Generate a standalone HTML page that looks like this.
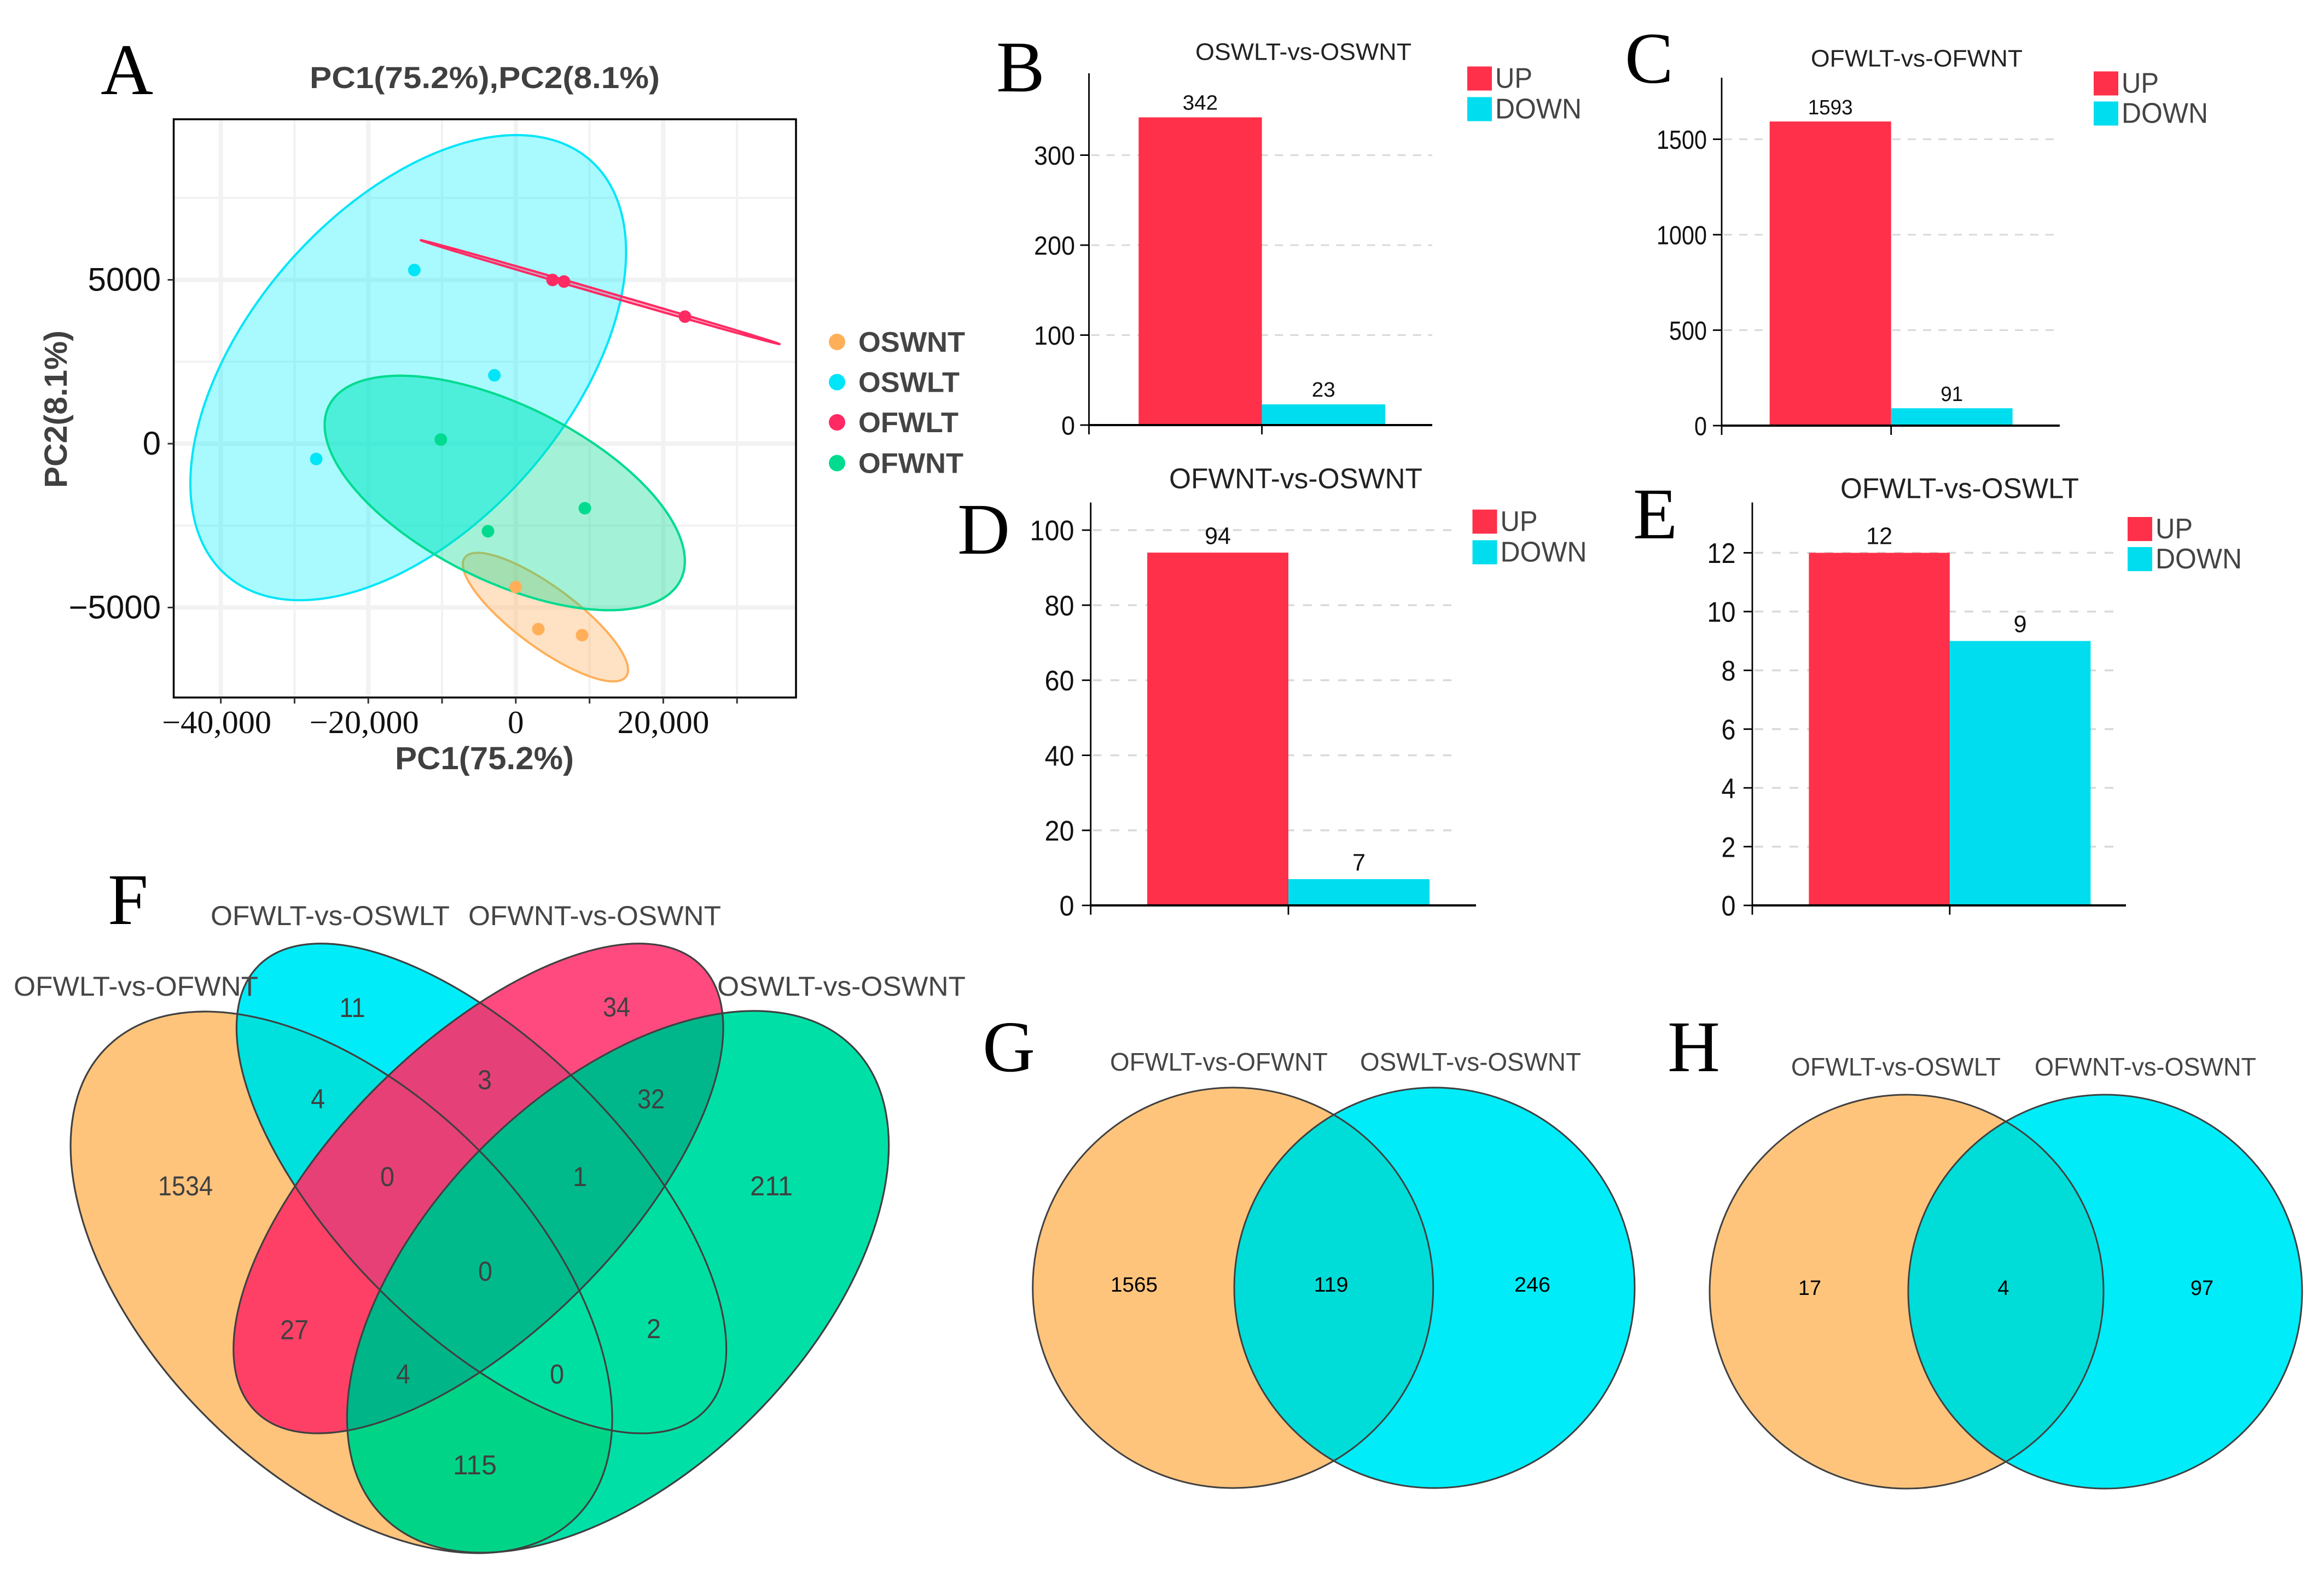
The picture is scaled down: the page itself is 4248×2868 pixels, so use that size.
<!DOCTYPE html>
<html lang="en">
<head>
<meta charset="utf-8">
<title>PCA, differential expression bars and Venn diagrams</title>
<style>
html,body{margin:0;padding:0;background:#fff;}
svg{display:block;}
text{font-family:"Liberation Sans",Arial,sans-serif;}
.letter{font-family:"Liberation Serif","Times New Roman",serif;font-size:133px;fill:#000;}
.setlabel{fill:#454545;font-size:50px;}
.count{fill:#404040;font-size:50px;text-anchor:middle;}
.setlabel2{fill:#454545;font-size:46px;}
.count2{fill:#000;font-size:38px;text-anchor:middle;}
</style>
</head>
<body>
<svg xmlns="http://www.w3.org/2000/svg" width="4248" height="2868" viewBox="0 0 4248 2868">
<rect width="4248" height="2868" fill="#fff"/>

<text class="letter" x="184" y="172">A</text>
<text class="letter" x="1821" y="167">B</text>
<text class="letter" x="2970" y="151">C</text>
<text class="letter" x="1750" y="1012">D</text>
<text class="letter" x="2985" y="984">E</text>
<text class="letter" x="197" y="1689">F</text>
<text class="letter" x="1796" y="1958">G</text>
<text class="letter" x="3048" y="1958">H</text>

<g id="pca-panel"></g>
<g id="bar-b"></g>
<g id="bar-c"></g>
<g id="bar-d"></g>
<g id="bar-e"></g>

<defs>
<path id="e-o" d="M194.8 1914.8A606.9 348.45 45 1 1 1053.2 2773.2A606.9 348.45 45 1 1 194.8 1914.8Z"/>
<path id="e-g" d="M700.3 2772.2A606.9 348.45 -45 1 1 1558.7 1913.8A606.9 348.45 -45 1 1 700.3 2772.2Z"/>
<path id="e-c" d="M472.7 1765.1A575.9 262.45 45 1 1 1287.3 2579.7A575.9 262.45 45 1 1 472.7 1765.1Z"/>
<path id="e-p" d="M467.1 2579.7A575.9 262.45 -45 1 1 1281.7 1765.1A575.9 262.45 -45 1 1 467.1 2579.7Z"/>
<clipPath id="c-o"><use href="#e-o"/></clipPath>
<clipPath id="c-g"><use href="#e-g"/></clipPath>
<clipPath id="c-c"><use href="#e-c"/></clipPath>
<clipPath id="c-p"><use href="#e-p"/></clipPath>
<clipPath id="c-g1"><circle cx="2253.7" cy="2354" r="366"/></clipPath>
<clipPath id="c-h1"><circle cx="3485" cy="2361" r="360"/></clipPath>
</defs>

<g>
  <use href="#e-o" fill="#FEC47C"/>
  <use href="#e-g" fill="#00E0A6"/>
  <use href="#e-c" fill="#00ECF8"/>
  <use href="#e-p" fill="#FF4A80"/>
  <g clip-path="url(#c-o)"><use href="#e-c" fill="#00E0DC"/></g>
  <g clip-path="url(#c-o)"><use href="#e-p" fill="#FF4066"/></g>
  <g clip-path="url(#c-o)"><use href="#e-g" fill="#00D587"/></g>
  <g clip-path="url(#c-c)"><use href="#e-p" fill="#E64078"/></g>
  <g clip-path="url(#c-c)"><use href="#e-g" fill="#00DFA2"/></g>
  <g clip-path="url(#c-p)"><use href="#e-g" fill="#00B78B"/></g>
  <g clip-path="url(#c-o)"><g clip-path="url(#c-c)"><use href="#e-p" fill="#E64076"/></g></g>
  <g clip-path="url(#c-o)"><g clip-path="url(#c-c)"><use href="#e-g" fill="#00DFA2"/></g></g>
  <g clip-path="url(#c-o)"><g clip-path="url(#c-p)"><use href="#e-g" fill="#00B588"/></g></g>
  <g clip-path="url(#c-c)"><g clip-path="url(#c-p)"><use href="#e-g" fill="#00BA8C"/></g></g>
  <g clip-path="url(#c-o)"><g clip-path="url(#c-c)"><g clip-path="url(#c-p)"><use href="#e-g" fill="#00BA8C"/></g></g></g>
  <g fill="none" stroke="#404040" stroke-width="3.2">
    <use href="#e-o"/>
    <use href="#e-c"/>
    <use href="#e-p"/>
    <use href="#e-g"/>
  </g>
  <text class="setlabel" x="385" y="1691" textLength="437" lengthAdjust="spacingAndGlyphs">OFWLT-vs-OSWLT</text>
  <text class="setlabel" x="856" y="1691" textLength="462" lengthAdjust="spacingAndGlyphs">OFWNT-vs-OSWNT</text>
  <text class="setlabel" x="25" y="1820" textLength="447" lengthAdjust="spacingAndGlyphs">OFWLT-vs-OFWNT</text>
  <text class="setlabel" x="1311" y="1820" textLength="454" lengthAdjust="spacingAndGlyphs">OSWLT-vs-OSWNT</text>
  <text class="count" x="644" y="1859" textLength="47" lengthAdjust="spacingAndGlyphs">11</text>
  <text class="count" x="1127" y="1858" textLength="50" lengthAdjust="spacingAndGlyphs">34</text>
  <text class="count" x="581" y="2026" textLength="26" lengthAdjust="spacingAndGlyphs">4</text>
  <text class="count" x="886" y="1991" textLength="26" lengthAdjust="spacingAndGlyphs">3</text>
  <text class="count" x="1190" y="2026" textLength="50" lengthAdjust="spacingAndGlyphs">32</text>
  <text class="count" x="339" y="2185" textLength="100" lengthAdjust="spacingAndGlyphs">1534</text>
  <text class="count" x="708" y="2168" textLength="26" lengthAdjust="spacingAndGlyphs">0</text>
  <text class="count" x="1060" y="2168" textLength="26" lengthAdjust="spacingAndGlyphs">1</text>
  <text class="count" x="1410" y="2185" textLength="78" lengthAdjust="spacingAndGlyphs">211</text>
  <text class="count" x="887" y="2341" textLength="26" lengthAdjust="spacingAndGlyphs">0</text>
  <text class="count" x="538" y="2448" textLength="52" lengthAdjust="spacingAndGlyphs">27</text>
  <text class="count" x="1195" y="2446" textLength="26" lengthAdjust="spacingAndGlyphs">2</text>
  <text class="count" x="737" y="2529" textLength="26" lengthAdjust="spacingAndGlyphs">4</text>
  <text class="count" x="1018" y="2529" textLength="26" lengthAdjust="spacingAndGlyphs">0</text>
  <text class="count" x="868" y="2695" textLength="80" lengthAdjust="spacingAndGlyphs">115</text>
</g>

<g>
  <circle cx="2253.7" cy="2354" r="366" fill="#FEC47C"/>
  <circle cx="2622" cy="2354" r="366" fill="#00ECF8"/>
  <g clip-path="url(#c-g1)"><circle cx="2622" cy="2354" r="366" fill="#00DDD8"/></g>
  <circle cx="2253.7" cy="2354" r="366" fill="none" stroke="#404040" stroke-width="3"/>
  <circle cx="2622" cy="2354" r="366" fill="none" stroke="#404040" stroke-width="3"/>
  <text class="setlabel2" x="2029" y="1957" textLength="398" lengthAdjust="spacingAndGlyphs">OFWLT-vs-OFWNT</text>
  <text class="setlabel2" x="2486" y="1957" textLength="404" lengthAdjust="spacingAndGlyphs">OSWLT-vs-OSWNT</text>
  <text class="count2" x="2073" y="2361" textLength="86" lengthAdjust="spacingAndGlyphs">1565</text>
  <text class="count2" x="2433" y="2361" textLength="63" lengthAdjust="spacingAndGlyphs">119</text>
  <text class="count2" x="2801" y="2361" textLength="66" lengthAdjust="spacingAndGlyphs">246</text>
</g>

<g>
  <circle cx="3485" cy="2361" r="360" fill="#FEC47C"/>
  <circle cx="3848" cy="2361" r="360" fill="#00ECF8"/>
  <g clip-path="url(#c-h1)"><circle cx="3848" cy="2361" r="360" fill="#00DDD8"/></g>
  <circle cx="3485" cy="2361" r="360" fill="none" stroke="#404040" stroke-width="3"/>
  <circle cx="3848" cy="2361" r="360" fill="none" stroke="#404040" stroke-width="3"/>
  <text class="setlabel2" x="3274" y="1966" textLength="383" lengthAdjust="spacingAndGlyphs">OFWLT-vs-OSWLT</text>
  <text class="setlabel2" x="3719" y="1966" textLength="405" lengthAdjust="spacingAndGlyphs">OFWNT-vs-OSWNT</text>
  <text class="count2" x="3308" y="2367">17</text>
  <text class="count2" x="3662" y="2367">4</text>
  <text class="count2" x="4025" y="2367">97</text>
</g>
</svg>

<script>
/* ---------- PCA data ---------- */
const groupNames = ['OSWNT', 'OSWLT', 'OFWLT', 'OFWNT'];
const oswntPc1 = [0, 3056, 8991];
const oswntPc2 = [-4374, -5659, -5843];
const oswltPc1 = [-13754, -2900, -27062];
const oswltPc2 = [5299, 2087, -467];
const ofwltPc1 = [4985, 6543, 22938];
const ofwltPc2 = [4995, 4948, 3878];
const ofwntPc1 = [-10163, -3769, 9362];
const ofwntPc2 = [125, -2671, -1970];
/* confidence ellipses: centre and half extents in data units, correlation */
const ellipseCentreX = [4020, -14585, 11439, -1499];
const ellipseCentreY = [-5292, 2320, 4624, -1504];
const ellipseHalfX = [11200, 29540, 24332, 24421];
const ellipseHalfY = [1962, 7097, 1586, 3578];
const ellipseRho = [-0.82, 0.497, -0.9993, -0.58];
const pcaXMajorTicks = [-40000, -20000, 0, 20000];
const pcaXMinorTicks = [-30000, -10000, 10000, 30000];
const pcaYMajorTicks = [-5000, 0, 5000];
const pcaYMinorTicks = [-2500, 2500, 7500];

/* ---------- Bar chart data ---------- */
const barCategories = ['UP', 'DOWN'];
const bValues = [342, 23];
const bTicks = [0, 100, 200, 300];
const cValues = [1593, 91];
const cTicks = [0, 500, 1000, 1500];
const dValues = [94, 7];
const dTicks = [0, 20, 40, 60, 80, 100];
const eValues = [12, 9];
const eTicks = [0, 2, 4, 6, 8, 10, 12];

const SVGNS = 'http://www.w3.org/2000/svg';
const groupColors = ['#FFAF5A', '#00E5F7', '#FF2A63', '#00DB8F'];
const ellipseFills = ['#FFAF5A', '#00F0FF', '#FF2A63', '#00DB8F'];
const barColors = ['#FF3049', '#00DDEE'];

function mk(parent, tag, attrs) {
  const el = document.createElementNS(SVGNS, tag);
  for (const k in attrs) el.setAttribute(k, attrs[k]);
  parent.appendChild(el);
  return el;
}
function mkText(parent, str, attrs, length) {
  const el = mk(parent, 'text', attrs);
  el.textContent = str;
  if (length) {
    el.setAttribute('textLength', length);
    el.setAttribute('lengthAdjust', 'spacingAndGlyphs');
  }
  return el;
}

/* ---------- Panel A ---------- */
(function () {
  const root = document.getElementById('pca-panel');
  const px = v => 942.8 + v * 0.01348;
  const py = v => 811 - v * 0.0599;
  const L = 317.5, R = 1455, T = 218, B = 1275;

  const clip = mk(root, 'clipPath', { id: 'pca-clip' });
  mk(clip, 'rect', { x: L, y: T, width: R - L, height: B - T });
  const gridG = mk(root, 'g', { 'clip-path': 'url(#pca-clip)' });
  
  

  pcaXMinorTicks.forEach(v => {
    const l = mk(gridG, 'line', { x1: px(v), x2: px(v), y1: T, y2: B, stroke: '#f2f2f2', 'stroke-width': 4 });
    
    
  });
  pcaYMinorTicks.forEach(v => {
    const l = mk(gridG, 'line', { x1: L, x2: R, y1: py(v), y2: py(v), stroke: '#f2f2f2', 'stroke-width': 4 });
    
    
  });
  pcaXMajorTicks.forEach(v => {
    const l = mk(gridG, 'line', { x1: px(v), x2: px(v), y1: T, y2: B, stroke: '#f2f2f2', 'stroke-width': 8 });
    
    
  });
  pcaYMajorTicks.forEach(v => {
    const l = mk(gridG, 'line', { x1: L, x2: R, y1: py(v), y2: py(v), stroke: '#f2f2f2', 'stroke-width': 8 });
    
    
  });

  const ellipsePaths = [];
  groupNames.forEach((name, i) => {
    const s = Math.sqrt(1 - ellipseRho[i] * ellipseRho[i]);
    let d = '';
    for (let k = 0; k < 240; k++) {
      const t = k / 240 * Math.PI * 2;
      const vx = ellipseCentreX[i] + ellipseHalfX[i] * Math.cos(t);
      const vy = ellipseCentreY[i] + ellipseHalfY[i] * (ellipseRho[i] * Math.cos(t) + s * Math.sin(t));
      d += (k ? 'L' : 'M') + px(vx).toFixed(1) + ' ' + py(vy).toFixed(1);
    }
    d += 'Z';
    ellipsePaths.push(d);
    const e = mk(root, 'path', { d: d, fill: ellipseFills[i], 'fill-opacity': i === 1 ? 0.34 : 0.36, stroke: groupColors[i], 'stroke-width': 4, 'stroke-linejoin': 'round' });
    
    
  });

  /* the reference overlap of the OSWLT and OFWNT ellipses is a brighter turquoise */
  const overlapClip = mk(root, 'clipPath', { id: 'pca-cyan-clip' });
  mk(overlapClip, 'path', { d: ellipsePaths[1] });
  const overlap = mk(root, 'path', { d: ellipsePaths[3], fill: '#00F0E6', 'fill-opacity': 0.28, 'clip-path': 'url(#pca-cyan-clip)' });
  
  
  const overlapEdge = mk(root, 'path', { d: ellipsePaths[3], fill: 'none', stroke: groupColors[3], 'stroke-width': 4 });
  
  

  const xs = [oswntPc1, oswltPc1, ofwltPc1, ofwntPc1];
  const ys = [oswntPc2, oswltPc2, ofwltPc2, ofwntPc2];
  groupNames.forEach((name, i) => {
    xs[i].forEach((v, j) => {
      const c = mk(root, 'circle', { cx: px(v), cy: py(ys[i][j]), r: 11.5, fill: groupColors[i] });
      
      
    });
  });

  const frame = mk(root, 'rect', { x: L, y: T, width: R - L, height: B - T, fill: 'none', stroke: '#000', 'stroke-width': 3.5 });
  
  

  pcaXMajorTicks.concat(pcaXMinorTicks).forEach(v => {
    const l = mk(root, 'line', { x1: px(v), x2: px(v), y1: B, y2: B + 11, stroke: '#333', 'stroke-width': 3 });
    
    
  });
  pcaYMajorTicks.forEach(v => {
    const l = mk(root, 'line', { x1: L - 11, x2: L, y1: py(v), y2: py(v), stroke: '#333', 'stroke-width': 3 });
    
    
  });
  const fmtX = v => (v < 0 ? '\u2212' : '') + Math.abs(v).toLocaleString('en-US');
  const fmtY = v => (v < 0 ? '\u2212' : '') + Math.abs(v);
  pcaXMajorTicks.forEach(v => {
    const t = mkText(root, fmtX(v), { x: px(v) - (v < 0 ? 7.5 : 0), y: 1340, 'text-anchor': 'middle', 'font-size': 59, fill: '#111', style: 'font-family:"Liberation Serif",serif' }, v < 0 ? 200 : (v > 0 ? 168 : 0));
    
    
  });
  pcaYMajorTicks.forEach(v => {
    const t = mkText(root, fmtY(v), { x: 294, y: py(v) + 20, 'text-anchor': 'end', 'font-size': 60, fill: '#111' });
    
    
  });

  const title = mkText(root, 'PC1(75.2%),PC2(8.1%)', { x: 566, y: 161, 'font-size': 56, 'font-weight': 'bold', fill: '#404040' }, 640);
  
  
  const xt = mkText(root, 'PC1(75.2%)', { x: 722, y: 1406, 'font-size': 58, 'font-weight': 'bold', fill: '#404040' }, 327);
  
  
  const yt = mkText(root, 'PC2(8.1%)', { x: 0, y: 0, 'font-size': 58, 'font-weight': 'bold', fill: '#404040', transform: 'translate(122 892) rotate(-90)' }, 288);
  
  

  const legendY = [625, 698.5, 772, 846.5];
  const legendLen = [195, 185, 183, 192];
  groupNames.forEach((name, i) => {
    const d = mk(root, 'circle', { cx: 1530, cy: legendY[i], r: 15, fill: groupColors[i] });
    
    
    const t = mkText(root, name, { x: 1569, y: legendY[i] + 18, 'font-size': 52, 'font-weight': 'bold', fill: '#444' }, legendLen[i]);
    
    
  });
})();

/* ---------- Panels B-E ---------- */
function drawBars(id, values, ticks, lay) {
  const root = document.getElementById(id);
  const maxTick = ticks[ticks.length - 1];
  const y = v => lay.base + (lay.topTickY - lay.base) * v / maxTick;
  const bandX = i => lay.band0 + i * lay.bandW;

  ticks.forEach(v => {
    if (v !== 0) {
      const g = mk(root, 'line', { x1: lay.axisX + 4, x2: lay.gridEnd, y1: y(v), y2: y(v), stroke: '#d9d9d9', 'stroke-width': lay.dashWidth, 'stroke-dasharray': lay.dash });
      
      
    }
  });
  values.forEach((v, i) => {
    const r = mk(root, 'rect', { x: bandX(i), y: y(v), width: lay.bandW, height: lay.base - y(v), fill: barColors[i] });
    
    
    const t = mkText(root, String(v), { x: bandX(i) + lay.bandW / 2, y: y(v) - lay.valueGap, 'text-anchor': 'middle', 'font-size': lay.valueSize, fill: '#111' }, String(v).length * lay.valueCharW);
    
    
  });
  const ya = mk(root, 'line', { x1: lay.axisX, x2: lay.axisX, y1: lay.axisTop, y2: lay.base + 17, stroke: '#000', 'stroke-width': 2.8 });
  
  
  const xa = mk(root, 'line', { x1: lay.axisX, x2: lay.end, y1: lay.base, y2: lay.base, stroke: '#000', 'stroke-width': 4 });
  
  
  const xt = mk(root, 'line', { x1: bandX(1), x2: bandX(1), y1: lay.base, y2: lay.base + 17, stroke: '#000', 'stroke-width': 2.8 });
  
  

  ticks.forEach(v => {
    const l = mk(root, 'line', { x1: lay.axisX - 16, x2: lay.axisX, y1: y(v), y2: y(v), stroke: '#000', 'stroke-width': 2.8 });
    
    
    const t = mkText(root, String(v), { x: lay.tickRight, y: y(v) + lay.tickSize * 0.36, 'text-anchor': 'end', 'font-size': lay.tickSize, fill: '#111' }, String(v).length * lay.tickCharW);
    
    
  });

  const title = mkText(root, lay.title, { x: lay.titleX, y: lay.titleY, 'font-size': lay.titleSize, fill: '#222' }, lay.titleLen);
  
  

  barCategories.forEach((name, i) => {
    const s = mk(root, 'rect', { x: lay.legX, y: lay.legY + i * lay.legStep, width: 45, height: 44, fill: barColors[i] });
    
    
    const t = mkText(root, name, { x: lay.legX + 51, y: lay.legY + i * lay.legStep + 39, 'font-size': 52, fill: '#444' }, i === 0 ? 68 : 158);
    
    
  });
}

drawBars('bar-b', bValues, bTicks, { base: 777, topTickY: 283.6, axisX: 1990.5, axisTop: 134, end: 2618, gridEnd: 2618, dash: '15 13', dashWidth: 3, band0: 2081.3, bandW: 225.3, tickRight: 1965, tickSize: 48, tickCharW: 25, valueSize: 38, valueCharW: 21.5, valueGap: 14, title: 'OSWLT-vs-OSWNT', titleX: 2185, titleY: 109.5, titleSize: 44, titleLen: 395, legX: 2682, legY: 121.5, legStep: 56 });
drawBars('bar-c', cValues, cTicks, { base: 778, topTickY: 254.5, axisX: 3147, axisTop: 142, end: 3765, gridEnd: 3765, dash: '15 13', dashWidth: 3, band0: 3234.7, bandW: 222, tickRight: 3120, tickSize: 48, tickCharW: 23, valueSize: 38, valueCharW: 20.5, valueGap: 13, title: 'OFWLT-vs-OFWNT', titleX: 3310, titleY: 121.5, titleSize: 44, titleLen: 387, legX: 3827, legY: 130.5, legStep: 55 });
drawBars('bar-d', dValues, dTicks, { base: 1655, topTickY: 969, axisX: 1993.7, axisTop: 918.5, end: 2698, gridEnd: 2653, dash: '16 16', dashWidth: 3.5, band0: 2097, bandW: 258, tickRight: 1963.5, tickSize: 52, tickCharW: 27, valueSize: 44, valueCharW: 24, valueGap: 15.7, title: 'OFWNT-vs-OSWNT', titleX: 2137, titleY: 892.5, titleSize: 52, titleLen: 463, legX: 2691.5, legY: 931.5, legStep: 56 });
drawBars('bar-e', eValues, eTicks, { base: 1655, topTickY: 1010.5, axisX: 3203, axisTop: 918.5, end: 3886, gridEnd: 3864, dash: '16 16', dashWidth: 3.5, band0: 3306.4, bandW: 257.5, tickRight: 3172.5, tickSize: 52, tickCharW: 26, valueSize: 44, valueCharW: 24, valueGap: 16, title: 'OFWLT-vs-OSWLT', titleX: 3364, titleY: 910.5, titleSize: 52, titleLen: 436, legX: 3889, legY: 945, legStep: 55 });
</script>
</body>
</html>
